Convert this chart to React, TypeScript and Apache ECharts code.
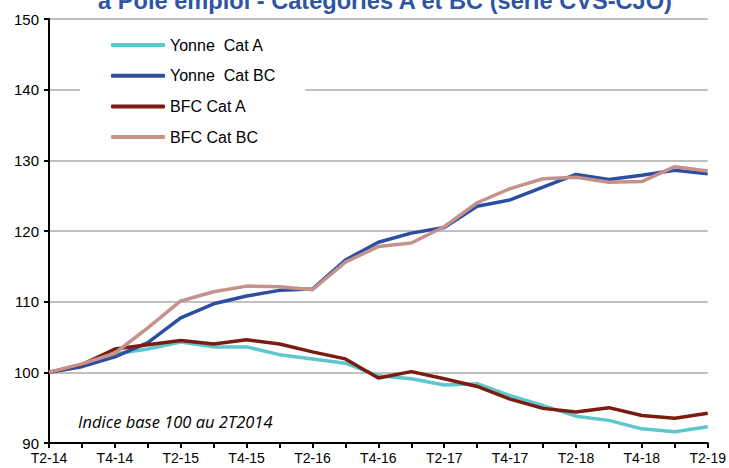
import React, { useEffect, useRef } from "react";
import * as echarts from "echarts";

const categories = [
  "T2-14", "T3-14", "T4-14", "T1-15", "T2-15", "T3-15", "T4-15", "T1-16", "T2-16", "T3-16", "T4-16",
  "T1-17", "T2-17", "T3-17", "T4-17", "T1-18", "T2-18", "T3-18", "T4-18", "T1-19", "T2-19",
];

const yonneCatA = [100, 100.9, 102.6, 103.3, 104.3, 103.6, 103.6, 102.5, 101.9, 101.3, 99.5, 99.1, 98.2, 98.4, 96.7, 95.3, 93.8, 93.2, 92.0, 91.6, 92.3];
const yonneCatBC = [100, 100.8, 102.2, 104.2, 107.7, 109.7, 110.8, 111.6, 111.8, 115.9, 118.4, 119.7, 120.5, 123.5, 124.4, 126.2, 128.0, 127.3, 127.9, 128.6, 128.1];
const bfcCatA = [100, 101.1, 103.3, 103.9, 104.5, 104.0, 104.6, 104.0, 102.9, 101.9, 99.2, 100.1, 99.1, 98.0, 96.2, 94.9, 94.4, 95.0, 93.9, 93.5, 94.2];
const bfcCatBC = [100, 101.2, 102.7, 106.3, 110.1, 111.4, 112.2, 112.1, 111.7, 115.6, 117.8, 118.3, 120.6, 124.0, 126.0, 127.4, 127.6, 126.9, 127.0, 129.1, 128.5];

const yTicks = { min: 90, max: 150, interval: 10 };

const titleText = "à Pôle emploi - Catégories A et BC (série CVS-CJO)";
const noteText = "Indice base 100 au 2T2014";

const seriesDefs = [
  { name: "Yonne  Cat A", data: yonneCatA, color: "#5EC6CD" },
  { name: "Yonne  Cat BC", data: yonneCatBC, color: "#2C4FA1" },
  { name: "BFC Cat A", data: bfcCatA, color: "#7A1C10" },
  { name: "BFC Cat BC", data: bfcCatBC, color: "#C4928B" },
];

export default function App() {
  const ref = useRef<HTMLDivElement>(null);
  useEffect(() => {
    if (!ref.current) return;
    const chart = echarts.init(ref.current, undefined, { renderer: "svg" });
    const font = "'Liberation Sans', Arial, sans-serif";
    chart.setOption({
      animation: false,
      backgroundColor: "#fff",
      grid: { left: 49, right: 20, top: 19, bottom: 25, containLabel: false },
      legend: {
        orient: "vertical",
        left: 80,
        top: 27,
        padding: [8, 30, 8, 31],
        backgroundColor: "#fff",
        itemWidth: 54,
        itemHeight: 4,
        itemGap: 10.7,
        icon: "roundRect",
        textStyle: { fontFamily: font, fontSize: 16, color: "#000", lineHeight: 20 },
        data: seriesDefs.map((s) => s.name),
        z: 5,
      },
      xAxis: {
        type: "category",
        data: categories,
        boundaryGap: false,
        axisLine: { lineStyle: { color: "#000", width: 2 } },
        axisTick: { interval: 0, length: 5, lineStyle: { color: "#000", width: 2 } },
        axisLabel: { interval: 1, fontFamily: font, fontSize: 14, color: "#000", margin: 8 },
        splitLine: { show: false },
      },
      yAxis: {
        type: "value",
        min: yTicks.min,
        max: yTicks.max,
        interval: yTicks.interval,
        axisLine: { show: true, lineStyle: { color: "#000", width: 2 } },
        axisTick: { show: true, length: 5, lineStyle: { color: "#000", width: 2 } },
        axisLabel: { fontFamily: font, fontSize: 15, color: "#000", margin: 10 },
        splitLine: { show: true, lineStyle: { color: "#C0C0C0", width: 2 } },
      },
      series: seriesDefs.map((s) => ({
        name: s.name,
        type: "line",
        data: s.data,
        showSymbol: false,
        symbol: "none",
        lineStyle: { color: s.color, width: 3.5 },
        itemStyle: { color: s.color },
        z: 3,
      })),
      graphic: [
        {
          type: "text",
          x: 385,
          y: 12.5,
          z: 1,
          style: {
            text: titleText,
            fill: "#2E54A4",
            font: "bold 23.6px 'Liberation Sans', Arial, sans-serif",
            align: "center",
            verticalAlign: "bottom",
          },
        },
        {
          type: "text",
          x: 78,
          y: 421,
          style: {
            text: noteText,
            fill: "#000",
            font: "italic 16.5px 'Open Sans', sans-serif",
            align: "left",
            verticalAlign: "middle",
          },
        },
      ],
    });
    return () => chart.dispose();
  }, []);
  return <div ref={ref} style={{ width: 729, height: 468, position: "absolute", left: 0, top: 0 }} />;
}
